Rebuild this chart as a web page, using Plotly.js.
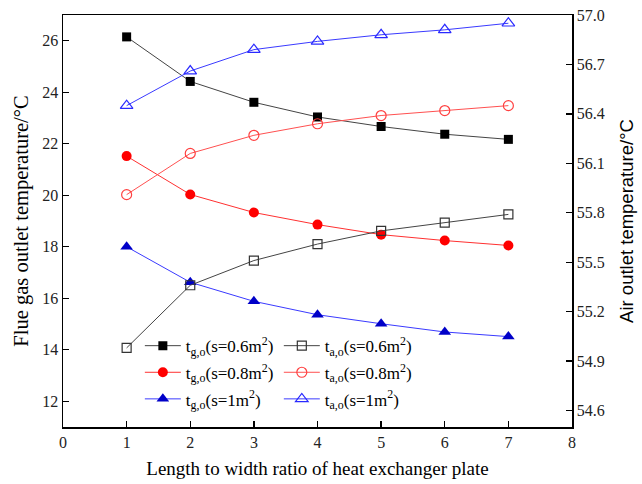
<!DOCTYPE html>
<html>
<head>
<meta charset="utf-8">
<script src="https://cdn.plot.ly/plotly-3.0.1.min.js"></script>
<style>
  html, body { margin: 0; padding: 0; background: #fff; }
  #chart { width: 642px; height: 484px; }
</style>
</head>
<body>
<div id="chart"></div>
<script>
// Length-to-width ratio of the plate
const ratio = [1, 2, 3, 4, 5, 6, 7];

// Flue gas outlet temperature (left axis, °C)
const tgS06 = [26.15, 24.42, 23.61, 23.04, 22.67, 22.37, 22.17];
const tgS08 = [21.52, 20.03, 19.33, 18.86, 18.47, 18.24, 18.05];
const tgS10 = [18.00, 16.62, 15.88, 15.36, 15.01, 14.69, 14.51];

// Air outlet temperature (right axis, °C)
const taS06 = [54.98, 55.36, 55.51, 55.61, 55.69, 55.74, 55.79];
const taS08 = [55.91, 56.16, 56.27, 56.34, 56.39, 56.42, 56.45];
const taS10 = [56.45, 56.66, 56.79, 56.84, 56.88, 56.91, 56.95];

// Legend labels
const lblTg06 = 't<sub>g,o</sub>(s=0.6m<sup>2</sup>)';
const lblTa06 = 't<sub>a,o</sub>(s=0.6m<sup>2</sup>)';
const lblTg08 = 't<sub>g,o</sub>(s=0.8m<sup>2</sup>)';
const lblTa08 = 't<sub>a,o</sub>(s=0.8m<sup>2</sup>)';
const lblTg10 = 't<sub>g,o</sub>(s=1m<sup>2</sup>)';
const lblTa10 = 't<sub>a,o</sub>(s=1m<sup>2</sup>)';

const serif = 'Liberation Serif, Times New Roman, serif';
const sans = 'Liberation Sans, Arial, sans-serif';

function series(y, name, axis, legend, group, lineColor, marker) {
  return {
    x: ratio, y: y, name: name, type: 'scatter', mode: 'lines+markers',
    yaxis: axis, legend: legend, legendgroup: group,
    line: { color: lineColor, width: 1 },
    marker: marker
  };
}

const traces = [
  series(tgS06, lblTg06, 'y', 'legend', 'g1', '#444444',
    { symbol: 'square', size: 9, color: '#000000' }),
  series(tgS08, lblTg08, 'y', 'legend', 'g2', '#ff3030',
    { symbol: 'circle', size: 10, color: '#ff0000' }),
  series(tgS10, lblTg10, 'y', 'legend', 'g3', '#3a3aff',
    { symbol: 'triangle-up', size: 11, color: '#0000c8' }),
  series(taS06, lblTa06, 'y2', 'legend2', 'a1', '#444444',
    { symbol: 'square-open', size: 9, color: '#333333', line: { width: 1.2 } }),
  series(taS08, lblTa08, 'y2', 'legend2', 'a2', '#ff5050',
    { symbol: 'circle-open', size: 10, color: '#ff4040', line: { width: 1.2 } }),
  series(taS10, lblTa10, 'y2', 'legend2', 'a3', '#3a3aff',
    { symbol: 'triangle-up-open', size: 11, color: '#2a2aff', line: { width: 1.2 } })
];

const legendBase = {
  font: { family: serif, size: 17, color: '#000' },
  bgcolor: 'rgba(0,0,0,0)',
  borderwidth: 0,
  xanchor: 'left', yanchor: 'top',
  orientation: 'v',
  itemwidth: 36,
  tracegroupgap: 1.5
};

const layout = {
  width: 642, height: 484,
  margin: { l: 63, r: 70, t: 15, b: 57 },
  paper_bgcolor: '#ffffff',
  plot_bgcolor: '#ffffff',
  font: { family: serif, color: '#000' },
  showlegend: true,
  legend: Object.assign({}, legendBase, { x: 0.151, y: 0.240 }),
  legend2: Object.assign({}, legendBase, { x: 0.424, y: 0.240 }),
  xaxis: {
    range: [0, 8], dtick: 1, tick0: 0,
    showline: true, linecolor: '#000', linewidth: 1.5, mirror: true,
    ticks: 'inside', ticklen: 6, tickwidth: 1.3, tickcolor: '#000',
    showgrid: false, zeroline: false,
    tickfont: { family: serif, size: 16, color: '#222' },
    title: { text: 'Length to width ratio of heat exchanger plate',
             font: { family: serif, size: 19, color: '#000' }, standoff: 12 }
  },
  yaxis: {
    range: [11, 27], tickvals: [12, 14, 16, 18, 20, 22, 24, 26],
    showline: true, linecolor: '#000', linewidth: 1.5,
    ticks: 'inside', ticklen: 6, tickwidth: 1.3, tickcolor: '#000',
    showgrid: false, zeroline: false,
    tickfont: { family: serif, size: 16, color: '#222' },
    title: { text: 'Flue gas outlet temperature/°C',
             font: { family: serif, size: 20.5, color: '#000' }, standoff: 8 }
  },
  yaxis2: {
    overlaying: 'y', side: 'right',
    range: [54.5, 57.0],
    tickvals: [54.6, 54.9, 55.2, 55.5, 55.8, 56.1, 56.4, 56.7, 57.0],
    ticktext: ['54.6', '54.9', '55.2', '55.5', '55.8', '56.1', '56.4', '56.7', '57.0'],
    showline: true, linecolor: '#000', linewidth: 1.5,
    ticks: 'inside', ticklen: 6, tickwidth: 1.3, tickcolor: '#000',
    showgrid: false, zeroline: false,
    tickfont: { family: serif, size: 16, color: '#222' },
    title: { text: 'Air outlet temperature/°C',
             font: { family: sans, size: 18.5, color: '#000' }, standoff: 16 }
  }
};

Plotly.newPlot('chart', traces, layout, { staticPlot: true, displayModeBar: false });
</script>
</body>
</html>
